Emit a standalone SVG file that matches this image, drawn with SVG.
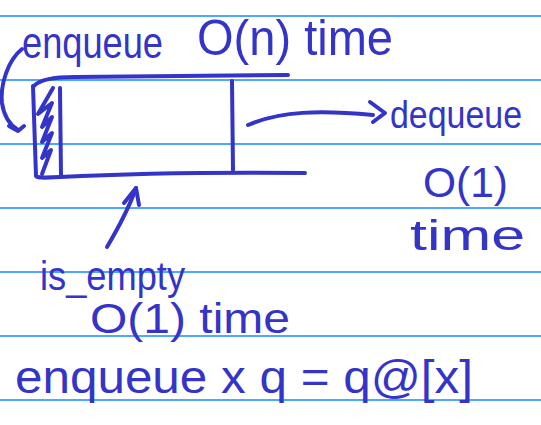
<svg xmlns="http://www.w3.org/2000/svg" width="541" height="425" viewBox="0 0 541 425">
<style>
.rule{stroke:#4ea8ff;stroke-width:2}
.ink{fill:none;stroke:#3434c8;stroke-width:4;stroke-linecap:round;stroke-linejoin:round}
.t{fill:#3434c8;font-family:"Liberation Sans","DejaVu Sans",sans-serif}
</style>
<rect width="541" height="425" fill="#ffffff"/>
<g id="paper">
<line class="rule" x1="0" y1="16" x2="541" y2="16"/>
<line class="rule" x1="0" y1="80" x2="541" y2="80"/>
<line class="rule" x1="0" y1="144" x2="541" y2="144"/>
<line class="rule" x1="0" y1="208" x2="541" y2="208"/>
<line class="rule" x1="0" y1="272" x2="541" y2="272"/>
<line class="rule" x1="0" y1="336" x2="541" y2="336"/>
<line class="rule" x1="0" y1="400" x2="541" y2="400"/>
</g>
<g id="queue">
<path class="ink" d="M34,86 C40,79 55,77 75,77 L288,75"/>
<path class="ink" d="M33,86 L36,176 C38,178 42,178 60,177 C120,174 200,172 305,173"/>
<path class="ink" d="M60,88 L61,176"/>
<path class="ink" d="M232,81 L233,170"/>
<path class="ink" stroke-width="3" d="M53,88 L38,114 L52,103 L42,127 L52,117 L42,142 L52,133 L42,158 L51,150 L42,174"/>
</g>
<g id="connectors">
<path class="ink" d="M22,49 C8,60 0,85 2,103 C4,117 10,125 18,130"/>
<path class="ink" d="M9,126 L18,131 L24,126"/>
<path class="ink" d="M248,125 C280,111 320,110 373,115"/>
<path class="ink" d="M370,102 L385,113 L373,122"/>
<path class="ink" d="M107,247 C120,225 130,205 136,188"/>
<path class="ink" d="M124,203 L136,188 L139,205"/>
</g>
<g id="label-enqueue-top">
<text class="t" x="22" y="58" font-size="44" textLength="141" lengthAdjust="spacingAndGlyphs">enqueue</text>
<text class="t" x="197" y="55" font-size="50" textLength="196" lengthAdjust="spacingAndGlyphs">O(n) time</text>
</g>
<g id="label-dequeue">
<text class="t" x="390" y="128" font-size="38" textLength="132" lengthAdjust="spacingAndGlyphs">dequeue</text>
<text class="t" x="423" y="197" font-size="42" textLength="85" lengthAdjust="spacingAndGlyphs">O(1)</text>
<text class="t" x="410" y="250" font-size="42" textLength="115" lengthAdjust="spacingAndGlyphs">time</text>
</g>
<g id="label-isempty">
<text class="t" x="40" y="290" font-size="40" textLength="145" lengthAdjust="spacingAndGlyphs">is_empty</text>
<text class="t" x="90" y="333" font-size="42" textLength="200" lengthAdjust="spacingAndGlyphs">O(1) time</text>
</g>
<g id="label-code">
<text class="t" x="15" y="393" font-size="46" textLength="458" lengthAdjust="spacingAndGlyphs">enqueue x q = q@[x]</text>
</g>
</svg>
